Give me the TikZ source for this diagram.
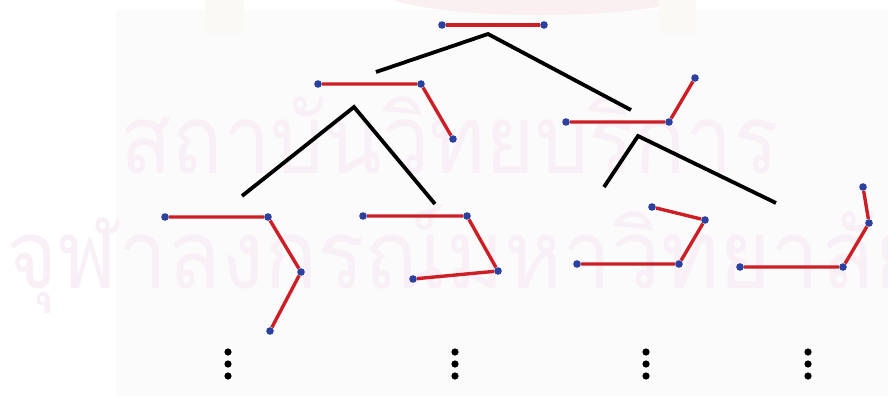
\documentclass[tikz,border=0pt]{standalone}
\usepackage{fontspec}
\newfontfamily\thaifont[Script=Thai]{Loma}
\usepackage{tikz}
\definecolor{SegRed}{RGB}{204,30,36}
\definecolor{DotBlue}{RGB}{44,64,160}
\definecolor{MarkPink}{RGB}{248,240,246}
\definecolor{SealPink}{RGB}{250,240,241}
\definecolor{PillarCream}{RGB}{250,249,245}
\definecolor{PaperGrey}{RGB}{251,251,251}

\begin{document}
\begin{tikzpicture}[
      x=0.025cm,y=-0.025cm,
      dot/.style={circle,fill=DotBlue,inner sep=0pt,minimum size=0.19cm},
      ell/.style={circle,fill=black,inner sep=0pt,minimum size=0.18cm},
      seg/.style={draw=SegRed,line width=2.4pt},
      branch/.style={draw=black,line width=2.7pt},
      wmark/.style={text=MarkPink,inner sep=0pt,anchor=base west,font=\thaifont\fontsize{68}{68}\selectfont}
    ]
      \useasboundingbox (0,0) rectangle (888,396);
      \fill[PaperGrey] (116,10) rectangle (888,396);

      % watermark
      \fill[SealPink] (540,-10) ellipse (160 and 25);
      \fill[PillarCream] (205,0) rectangle (244,34);
      \fill[PillarCream] (659,0) rectangle (696,34);
      \node[wmark] (wmtop) at (120,173) {\scalebox{0.885}[1]{สถาบันวิทยบริการ}};
      \node[wmark] (wmbot) at (6,288) {\scalebox{0.92}[1]{จุฬาลงกรณ์มหาวิทยาลัย}};

      % root
      \node[dot] (t1) at (442,25) {};
      \node[dot] (t2) at (544,25) {};
      \draw[seg] (t1) -- (t2);

      % second level
      \node[dot] (l1) at (318,84) {};
      \node[dot] (l2) at (421,84) {};
      \node[dot] (l3) at (453,139) {};
      \draw[seg] (l1) -- (l2) -- (l3);

      \node[dot] (r1) at (566,122) {};
      \node[dot] (r2) at (669,122) {};
      \node[dot] (r3) at (695,78) {};
      \draw[seg] (r1) -- (r2) -- (r3);

      % third level
      \node[dot] (a1) at (165,217) {};
      \node[dot] (a2) at (268,217) {};
      \node[dot] (a3) at (301,272) {};
      \node[dot] (a4) at (270,331) {};
      \draw[seg] (a1) -- (a2) -- (a3) -- (a4);

      \node[dot] (b1) at (363,216) {};
      \node[dot] (b2) at (467,216) {};
      \node[dot] (b3) at (498,271) {};
      \node[dot] (b4) at (413,279) {};
      \draw[seg] (b1) -- (b2) -- (b3) -- (b4);

      \node[dot] (c1) at (577,264) {};
      \node[dot] (c2) at (679,264) {};
      \node[dot] (c3) at (705,220) {};
      \node[dot] (c4) at (652,207) {};
      \draw[seg] (c1) -- (c2) -- (c3) -- (c4);

      \node[dot] (d1) at (740,267) {};
      \node[dot] (d2) at (843,267) {};
      \node[dot] (d3) at (869,223) {};
      \node[dot] (d4) at (863,187) {};
      \draw[seg] (d1) -- (d2) -- (d3) -- (d4);

      % branches
      \coordinate (rootL) at (376,72);
      \coordinate (rootA) at (488,34);
      \coordinate (rootR) at (631,110);
      \draw[branch] (rootL) -- (rootA) -- (rootR);

      \coordinate (leftL) at (242,196);
      \coordinate (leftA) at (354,107);
      \coordinate (leftR) at (435,204);
      \draw[branch] (leftL) -- (leftA) -- (leftR);

      \coordinate (rightL) at (604,187);
      \coordinate (rightA) at (638,136);
      \coordinate (rightR) at (776,203);
      \draw[branch] (rightL) -- (rightA) -- (rightR);

      % continuation dots
      \foreach \x in {228,455,646,808}
        \foreach \y in {352,364,376}
          \node[ell] (v\x-\y) at (\x,\y) {};
    \end{tikzpicture}
\end{document}
